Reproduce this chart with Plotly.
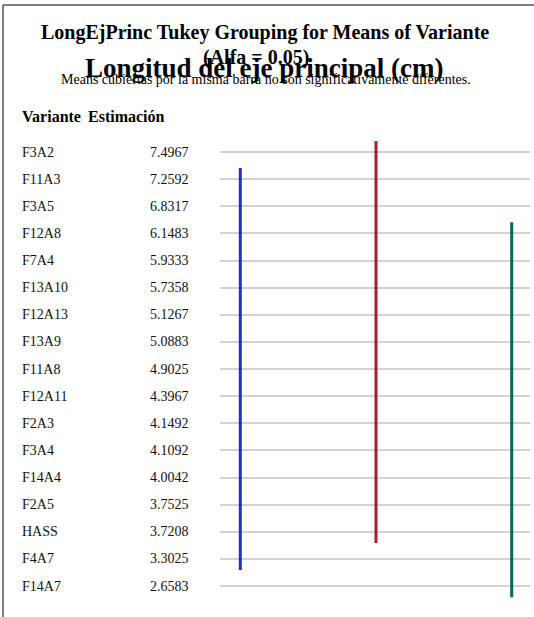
"""Tukey grouping chart for LongEjPrinc (means of Variante)."""

import plotly.graph_objects as go

W, H = 534, 617
FONT = "Liberation Serif"

variantes = [
    "F3A2", "F11A3", "F3A5", "F12A8", "F7A4", "F13A10", "F12A13", "F13A9",
    "F11A8", "F12A11", "F2A3", "F3A4", "F14A4", "F2A5", "HASS", "F4A7", "F14A7",
]
estimaciones = [
    7.4967, 7.2592, 6.8317, 6.1483, 5.9333, 5.7358, 5.1267, 5.0883,
    4.9025, 4.3967, 4.1492, 4.1092, 4.0042, 3.7525, 3.7208, 3.3025, 2.6583,
]

# each grouping bar: first and last variante it covers
group_first = ["F11A3", "F3A2", "F12A8"]
group_last = ["F4A7", "HASS", "F14A7"]
group_colors = ["#2828D8", "#B01A2E", "#00695A"]

rows = list(range(len(variantes)))
row_px0, row_step = 152, 27.125  # pixel of first row, row spacing
ext = 0.41


def px_x(x):
    return x / W


def px_y(y):
    return 1 - y / H


fig = go.Figure()

for k, (a, b, c) in enumerate(zip(group_first, group_last, group_colors)):
    i0, i1 = variantes.index(a), variantes.index(b)
    fig.add_trace(
        go.Scatter(
            x=[k, k],
            y=[i0 - ext, i1 + ext],
            mode="lines",
            line={"color": c, "width": 3},
            hoverinfo="skip",
            showlegend=False,
        )
    )

for i, (v, e) in enumerate(zip(variantes, estimaciones)):
    fig.add_annotation(
        x=px_x(20), y=i, xref="paper", yref="y", text=v, showarrow=False,
        xanchor="left", yanchor="middle", font={"family": FONT, "size": 14, "color": "#111"},
    )
    fig.add_annotation(
        x=px_x(191), y=i, xref="paper", yref="y", text=f"{e:.4f}", showarrow=False,
        xanchor="right", yanchor="middle", font={"family": FONT, "size": 14, "color": "#111"},
    )

texts = [
    (20, 116, "<b>Variante</b>", "left", 16),
    (86, 116, "<b>Estimación</b>", "left", 16),
    (265, 32, "<b>LongEjPrinc Tukey Grouping for Means of Variante</b>", "center", 20),
    (256, 58, "<b>(Alfa = 0.05)</b>", "center", 20),
    (264, 68, "<b>Longitud del eje principal (cm)</b>", "center", 27),
    (266, 79, "Means cubiertas por la misma barra no son significativamente diferentes.", "center", 14),
]
for x, y, t, anc, size in texts:
    fig.add_annotation(
        x=px_x(x), y=px_y(y), xref="paper", yref="paper", text=t, showarrow=False,
        xanchor=anc, yanchor="middle", font={"family": FONT, "size": size, "color": "#000"},
    )

# frame (left and top edges visible)
fig.add_shape(type="line", xref="paper", yref="paper", x0=px_x(3), x1=px_x(3), y0=0, y1=px_y(5),
              line={"color": "#555", "width": 1.5})
fig.add_shape(type="line", xref="paper", yref="paper", x0=px_x(3), x1=1, y0=px_y(5), y1=px_y(5),
              line={"color": "#555", "width": 1.5})

y_top = row_px0 - row_step
y_bot = row_px0 + row_step * len(variantes)

fig.update_layout(
    width=W,
    height=H,
    margin={"l": 0, "r": 0, "t": 0, "b": 0},
    paper_bgcolor="white",
    plot_bgcolor="white",
    showlegend=False,
    xaxis={
        "domain": [px_x(220), px_x(530)],
        "range": [(220 - 240.3) / 135.7, (530 - 240.3) / 135.7],
        "showgrid": False, "zeroline": False, "showticklabels": False, "ticks": "",
    },
    yaxis={
        "domain": [px_y(y_bot), px_y(y_top)],
        "range": [len(variantes), -1],
        "tickvals": rows,
        "showgrid": True, "gridcolor": "#d2d2d2", "gridwidth": 1.5,
        "zeroline": False, "showticklabels": False, "ticks": "",
    },
)

# drop the default body margin so the figure sits at the window's top-left corner
fig.write_html(
    "out.html",
    config={"displayModeBar": False},
    post_script="document.body.style.margin = '0';",
)
